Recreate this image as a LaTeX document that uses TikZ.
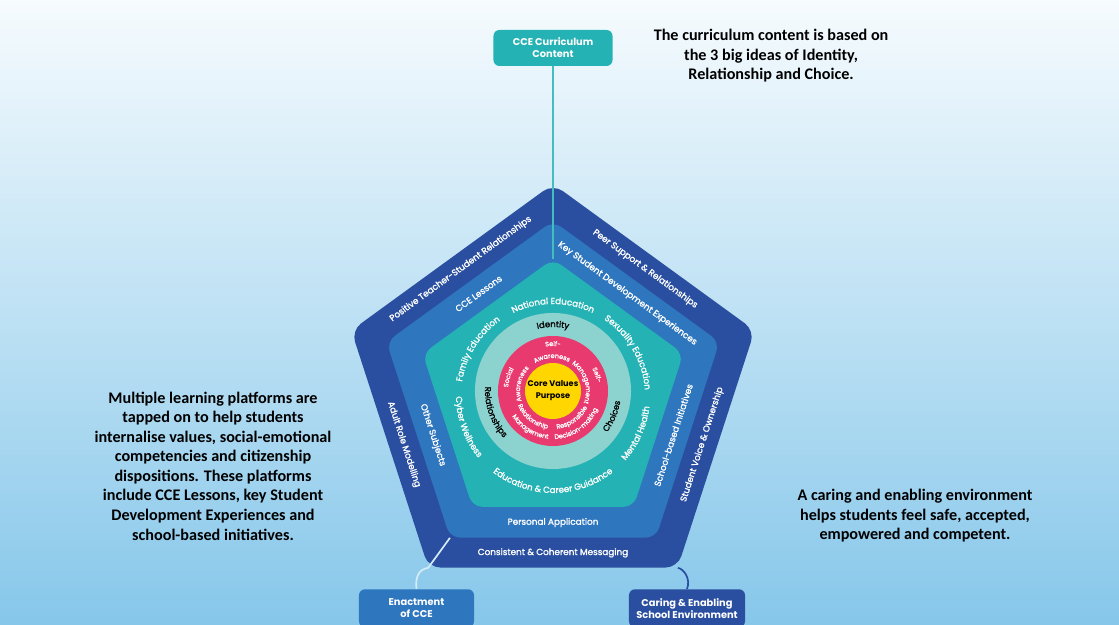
\documentclass[tikz,border=0pt]{standalone}
\usepackage{fontspec}
\setmainfont{Carlito}
\newfontfamily\diagfont[UprightFeatures={FakeBold=1.5}]{Poppins}
\usetikzlibrary{shapes.geometric, positioning, calc, decorations.text}

\definecolor{darkband}{RGB}{43,79,160}
\definecolor{midband}{RGB}{46,118,190}
\definecolor{tealband}{RGB}{36,178,180}
\definecolor{lightring}{RGB}{140,210,206}
\definecolor{pinkring}{RGB}{232,58,110}
\definecolor{coreyellow}{RGB}{255,214,0}
\definecolor{skytop}{RGB}{246,251,254}
\definecolor{skybottom}{RGB}{134,199,234}
\definecolor{paleline}{RGB}{214,236,248}

\newcommand{\tealfont}{\diagfont\fontsize{6.2}{7}\selectfont}
\newcommand{\ideafont}{\diagfont\fontsize{6}{7}\selectfont}
\newcommand{\pinkfont}{\diagfont\fontsize{4.6}{5.5}\selectfont}

\begin{document}
\begin{tikzpicture}[x=0.025cm, y=0.025cm]
        \tikzstyle{pent} = [regular polygon, regular polygon sides=5, inner sep=0pt, rounded corners=0.3cm]
        \tikzstyle{ring} = [circle, inner sep=0pt]
        \tikzstyle{callout} = [rectangle, rounded corners=0.15cm, text=white, align=center, font=\diagfont\bfseries\fontsize{7}{8.5}\selectfont]
        \tikzstyle{bandlabel} = [text=white, font=\diagfont\fontsize{6.3}{7}\selectfont]
        \tikzstyle{note} = [align=center, font=\bfseries\fontsize{11.5}{13.9}\selectfont]
        \tikzstyle{curved} = [decorate, decoration={text along path, text align=center, text color=white}]
        \tikzstyle{curveddark} = [decorate, decoration={text along path, text align=center, text color=black}]

        \shade [top color=skytop, bottom color=skybottom] (0,0) rectangle (1119,625);
        \useasboundingbox (0,0) rectangle (1119,625);

        \coordinate (P) at (553,229);
        \coordinate (O) at (553,234);

        \node (outerpent) [pent, fill=darkband, minimum size=10.6cm] at (P) {};
        \node (midpent) [pent, fill=midband, minimum size=8.75cm, rounded corners=0.25cm] at (P) {};
        \node (tealpent) [pent, fill=tealband, minimum size=6.85cm, rounded corners=0.25cm] at (P) {};
        \node (lightcircle) [ring, fill=lightring, minimum size=3.9cm] at (O) {};
        \node (pinkcircle) [ring, fill=pinkring, minimum size=2.75cm] at (O) {};
        \node (core) [ring, fill=coreyellow, minimum size=1.4cm, align=center, font=\diagfont\bfseries\fontsize{5.8}{8.5}\selectfont] at (O) {Core Values\\Purpose};

        \node (teacher) [bandlabel, rotate=36] at ($(outerpent.side 1)!0.5!(midpent.side 1)$) {Positive Teacher-Student Relationships};
        \node (peer) [bandlabel, rotate=-36] at ($(outerpent.side 5)!0.5!(midpent.side 5)$) {Peer Support \& Relationships};
        \node (modelling) [bandlabel, rotate=-72] at ($(outerpent.side 2)!0.5!(midpent.side 2)$) {Adult Role Modelling};
        \node (voice) [bandlabel, rotate=72] at ($(outerpent.side 4)!0.5!(midpent.side 4)$) {Student Voice \& Ownership};
        \node (messaging) [bandlabel] at ($(outerpent.side 3)!0.5!(midpent.side 3)$) {Consistent \& Coherent Messaging};
        \node (lessons) [bandlabel, rotate=36] at ($(midpent.side 1)!0.5!(tealpent.side 1)$) {CCE Lessons};
        \node (experiences) [bandlabel, rotate=-36] at ($(midpent.side 5)!0.5!(tealpent.side 5)$) {Key Student Development Experiences};
        \node (subjects) [bandlabel, rotate=-72] at ($(midpent.side 2)!0.5!(tealpent.side 2)$) {Other Subjects};
        \node (initiatives) [bandlabel, rotate=72] at ($(midpent.side 4)!0.5!(tealpent.side 4)$) {School-based Initiatives};
        \node (application) [bandlabel] at ($(midpent.side 3)!0.5!(tealpent.side 3)$) {Personal Application};

        \path [curved, decoration={text={|\tealfont|National Education}}] ([shift={(130:92)}]P) arc[start angle=130, end angle=50, radius=92];
        \path [curved, decoration={text={|\tealfont|Family Education}}] ([shift={(188:92)}]P) arc[start angle=188, end angle=108, radius=92];
        \path [curved, decoration={text={|\tealfont|Sexuality Education}}] ([shift={(70:92)}]P) arc[start angle=70, end angle=-10, radius=92];
        \path [curved, decoration={text={|\tealfont|Education {\&} Career Guidance}}] ([shift={(215:97)}]P) arc[start angle=215, end angle=325, radius=97];
        \path [curved, decoration={text={|\tealfont|Cyber Wellness}}] ([shift={(170:97)}]P) arc[start angle=170, end angle=230, radius=97];
        \path [curved, decoration={text={|\tealfont|Mental Health}}] ([shift={(306:97)}]P) arc[start angle=306, end angle=366, radius=97];

        \path [curveddark, decoration={text={|\ideafont|Identity}}] ([shift={(120:64)}]O) arc[start angle=120, end angle=60, radius=64];
        \path [curveddark, decoration={text={|\ideafont|Relationships}}] ([shift={(160:68)}]O) arc[start angle=160, end angle=240, radius=68];
        \path [curveddark, decoration={text={|\ideafont|Choices}}] ([shift={(307:68)}]O) arc[start angle=307, end angle=367, radius=68];

        \path [curved, decoration={text={|\pinkfont|Self-}}] ([shift={(135:45)}]O) arc[start angle=135, end angle=45, radius=45];
        \path [curved, decoration={text={|\pinkfont|Awareness}}] ([shift={(142:33)}]O) arc[start angle=142, end angle=42, radius=33];
        \path [curved, decoration={text={|\pinkfont|Self-}}] ([shift={(70:45)}]O) arc[start angle=70, end angle=-30, radius=45];
        \path [curved, decoration={text={|\pinkfont|Management}}] ([shift={(67:33)}]O) arc[start angle=67, end angle=-33, radius=33];
        \path [curved, decoration={text={|\pinkfont|Social}}] ([shift={(213:45)}]O) arc[start angle=213, end angle=113, radius=45];
        \path [curved, decoration={text={|\pinkfont|Awareness}}] ([shift={(217:33)}]O) arc[start angle=217, end angle=117, radius=33];
        \path [curved, decoration={text={|\pinkfont|Relationship}}] ([shift={(182:38)}]O) arc[start angle=182, end angle=282, radius=38];
        \path [curved, decoration={text={|\pinkfont|Management}}] ([shift={(188:48)}]O) arc[start angle=188, end angle=288, radius=48];
        \path [curved, decoration={text={|\pinkfont|Responsible}}] ([shift={(255:38)}]O) arc[start angle=255, end angle=355, radius=38];
        \path [curved, decoration={text={|\pinkfont|Decision-making}}] ([shift={(255:48)}]O) arc[start angle=255, end angle=355, radius=48];

        \node (cce) [callout, fill=tealband, minimum width=2.975cm, minimum height=0.9cm] at (553,577) {CCE Curriculum\\Content};
        \node (enact) [callout, fill=midband, minimum width=2.875cm, minimum height=0.95cm, anchor=north] at (416.5,36) {Enactment\\of CCE};
        \node (caring) [callout, fill=darkband, minimum width=2.9cm, minimum height=0.95cm, anchor=north] at (687,36) {Caring \& Enabling\\School Environment};

        \draw [tealband!85!white, line width=1pt] (cce) -- (tealpent.corner 1);
        \draw [paleline, line width=1.2pt] (enact.north) .. controls (415,48) and (419,56) .. (outerpent.corner 3) -- (midpent.corner 3);
        \draw [darkband, line width=1.2pt] (caring.north) .. controls (691,46) and (684,56) .. (outerpent.corner 4);

        \node (ideas) [note, right=0.9cm of cce, yshift=-0.2cm] {The curriculum content is based on\\the 3 big ideas of Identity,\\Relationship and Choice.};
        \node (platforms) [note] at (213,159) {Multiple learning platforms are\\tapped on to help students\\internalise values, social-emotional\\competencies and citizenship\\dispositions. These platforms\\include CCE Lessons, key Student\\Development Experiences and\\school-based initiatives.};
        \node (environment) [note] at (915,109) {A caring and enabling environment\\helps students feel safe, accepted,\\empowered and competent.};
    \end{tikzpicture}
\end{document}
